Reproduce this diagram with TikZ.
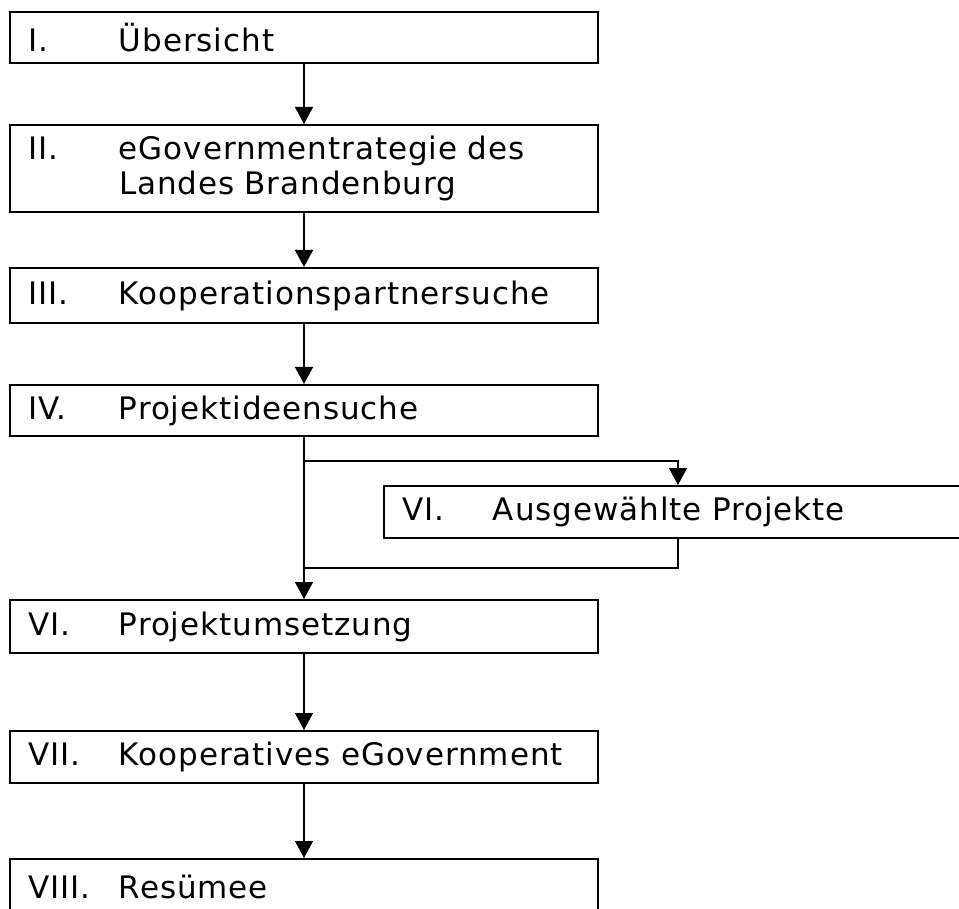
\documentclass[tikz,border=0pt]{standalone}
\usepackage{fontspec}
\setmainfont[LetterSpace=3]{DejaVu Sans}
\usetikzlibrary{arrows.meta}
\newcommand{\kap}[2]{\makebox[91pt][l]{#1}#2}

\begin{document}
\begin{tikzpicture}[x=1pt, y=-1pt,
  kasten/.style={draw, line width=2pt, rectangle, anchor=north west, minimum width=588pt, text width=552pt, inner xsep=18pt, inner ysep=0pt, align=left, font=\fontsize{31}{35}\selectfont},
  pfeil/.style={line width=1.4pt, -{Triangle[width=18pt,length=17pt]}},
  linie/.style={line width=1.4pt}]
\useasboundingbox (0,0) rectangle (959,909);
\clip (0,0) rectangle (959,909);
\node[kasten, minimum height=51pt] (kap1) at (9,11){\kap{I.}{Übersicht}};
\node[kasten, minimum height=87pt] (kap2) at (9,124){\kap{II.}{eGovernmentrategie des}\\\hspace*{91pt}Landes Brandenburg};
\node[kasten, minimum height=55pt] (kap3) at (9,267){\kap{III.}{Kooperationspartnersuche}};
\node[kasten, minimum height=51pt] (kap4) at (9,384){\kap{IV.}{Projektideensuche}};
\node[kasten, minimum height=52pt] (kap5) at (383,485){\kap{VI.}{Ausgewählte Projekte}};
\node[kasten, minimum height=53pt] (kap6) at (9,599){\kap{VI.}{Projektumsetzung}};
\node[kasten, minimum height=52pt] (kap7) at (9,730){\kap{VII.}{Kooperatives eGovernment}};
\node[kasten, minimum height=56pt] (kap8) at (9,858){\kap{VIII.}{Resümee}};
\coordinate (abzw) at (303,461);
\coordinate (rueck) at (303,568);
\draw[pfeil] (kap1) -- (kap2);
\draw[pfeil] (kap2) -- (kap3);
\draw[pfeil] (kap3) -- (kap4);
\draw[pfeil] (kap4) -- (kap6);
\draw[pfeil] (abzw) -| (kap5.north);
\draw[linie] (kap5.south) |- (rueck);
\draw[pfeil] (kap6) -- (kap7);
\draw[pfeil] (kap7) -- (kap8);
\end{tikzpicture}
\end{document}
